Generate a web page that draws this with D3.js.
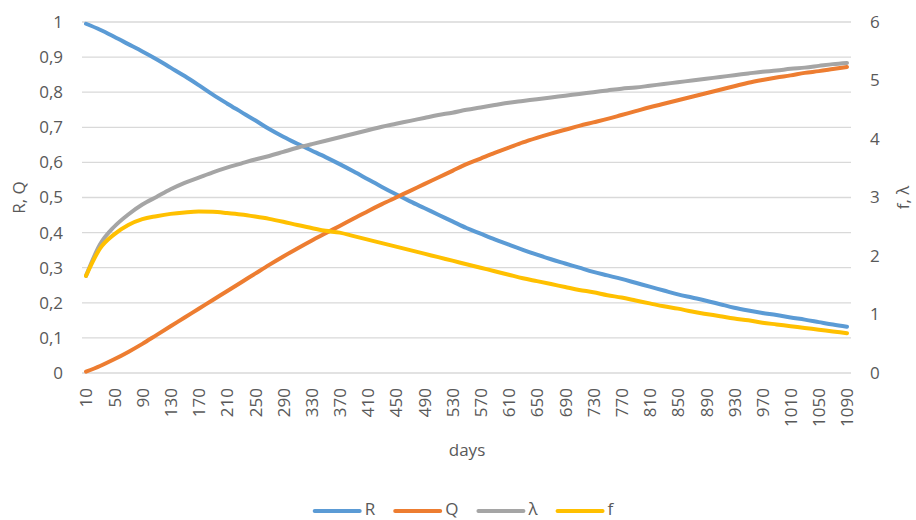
<!DOCTYPE html>
<html>
<head>
<meta charset="utf-8">
<script src="https://cdn.jsdelivr.net/npm/d3@7"></script>
<style>
  body { margin: 0; background: #fff; }
  text { font-family: "Open Sans", sans-serif; fill: #595959; }
</style>
</head>
<body>
<svg id="chart"></svg>
<script>
// days (category axis), one value every 20 days
const days = [10, 30, 50, 70, 90, 110, 130, 150, 170, 190, 210, 230, 250, 270, 290, 310, 330, 350, 370, 390,
  410, 430, 450, 470, 490, 510, 530, 550, 570, 590, 610, 630, 650, 670, 690, 710, 730, 750, 770, 790,
  810, 830, 850, 870, 890, 910, 930, 950, 970, 990, 1010, 1030, 1050, 1070, 1090];

// left axis series
const R = [0.995, 0.978, 0.958, 0.937, 0.916, 0.894, 0.870, 0.846, 0.820, 0.793, 0.768, 0.744, 0.720, 0.695, 0.673, 0.653, 0.634, 0.615, 0.595, 0.574,
  0.552, 0.530, 0.509, 0.489, 0.470, 0.451, 0.432, 0.413, 0.397, 0.381, 0.366, 0.351, 0.337, 0.324, 0.312, 0.300, 0.288, 0.278, 0.268, 0.257,
  0.246, 0.235, 0.224, 0.215, 0.206, 0.196, 0.186, 0.178, 0.171, 0.165, 0.158, 0.152, 0.145, 0.138, 0.132];
const Q = [0.004, 0.020, 0.039, 0.060, 0.083, 0.108, 0.133, 0.158, 0.183, 0.208, 0.233, 0.258, 0.283, 0.308, 0.332, 0.355, 0.377, 0.398, 0.419, 0.440,
  0.461, 0.481, 0.500, 0.519, 0.538, 0.557, 0.576, 0.595, 0.611, 0.627, 0.642, 0.657, 0.670, 0.682, 0.693, 0.704, 0.714, 0.724, 0.735, 0.746,
  0.757, 0.767, 0.777, 0.787, 0.797, 0.807, 0.817, 0.827, 0.835, 0.842, 0.848, 0.855, 0.860, 0.866, 0.872];

// right axis series
const lambda = [1.66, 2.20, 2.50, 2.71, 2.88, 3.01, 3.14, 3.25, 3.34, 3.43, 3.51, 3.58, 3.65, 3.71, 3.78, 3.85, 3.91, 3.97, 4.03, 4.09,
  4.15, 4.21, 4.26, 4.31, 4.36, 4.41, 4.45, 4.50, 4.54, 4.58, 4.62, 4.65, 4.68, 4.71, 4.74, 4.77, 4.80, 4.83, 4.86, 4.88,
  4.91, 4.94, 4.97, 5.00, 5.03, 5.06, 5.09, 5.12, 5.15, 5.17, 5.20, 5.22, 5.25, 5.28, 5.30];
const f = [1.66, 2.13, 2.37, 2.53, 2.63, 2.68, 2.72, 2.745, 2.76, 2.755, 2.735, 2.71, 2.675, 2.635, 2.585, 2.53, 2.48, 2.43, 2.40, 2.34,
  2.28, 2.22, 2.16, 2.10, 2.04, 1.98, 1.92, 1.86, 1.80, 1.74, 1.68, 1.62, 1.57, 1.52, 1.47, 1.42, 1.38, 1.33, 1.29, 1.24,
  1.19, 1.14, 1.10, 1.05, 1.01, 0.97, 0.93, 0.90, 0.86, 0.83, 0.80, 0.77, 0.74, 0.71, 0.68];

const dayTicks = [10, 50, 90, 130, 170, 210, 250, 290, 330, 370, 410, 450, 490, 530, 570, 610, 650, 690, 730, 770,
  810, 850, 890, 930, 970, 1010, 1050, 1090];
const leftTicks = [0, 0.1, 0.2, 0.3, 0.4, 0.5, 0.6, 0.7, 0.8, 0.9, 1];
const rightTicks = [0, 1, 2, 3, 4, 5, 6];

const series = [
  { name: "R", values: R, axis: "left", color: "#5B9BD5" },
  { name: "Q", values: Q, axis: "left", color: "#ED7D31" },
  { name: "λ", values: lambda, axis: "right", color: "#A5A5A5" },
  { name: "f", values: f, axis: "right", color: "#FFC000" }
];

const width = 916, height = 520;
const plot = { left: 82, right: 851, top: 22, bottom: 373 };
const fontSize = "17px";

const svg = d3.select("#chart")
  .attr("width", width)
  .attr("height", height);

const x = d3.scalePoint()
  .domain(days)
  .range([86, 847]);

const yLeft = d3.scaleLinear()
  .domain([0, 1])
  .range([plot.bottom, plot.top]);

const yRight = d3.scaleLinear()
  .domain([0, 6])
  .range([plot.bottom, plot.top]);

// gridlines
svg.append("g")
  .selectAll("line")
  .data(leftTicks)
  .join("line")
  .attr("x1", plot.left)
  .attr("x2", plot.right)
  .attr("y1", d => yLeft(d))
  .attr("y2", d => yLeft(d))
  .attr("stroke", "#D9D9D9")
  .attr("stroke-width", 1.3);

const fmt = d => (d === 0 || d === 1) ? String(d) : d.toFixed(1).replace(".", ",");

const leftAxis = svg.append("g")
  .attr("transform", `translate(${plot.left},0)`)
  .call(d3.axisLeft(yLeft).tickValues(leftTicks).tickFormat(fmt).tickSize(0).tickPadding(19));

const rightAxis = svg.append("g")
  .attr("transform", `translate(${plot.right},0)`)
  .call(d3.axisRight(yRight).tickValues(rightTicks).tickFormat(d3.format("d")).tickSize(0).tickPadding(19));

const xAxis = svg.append("g")
  .attr("transform", `translate(0,${plot.bottom})`)
  .call(d3.axisBottom(x).tickValues(dayTicks).tickSize(0));

xAxis.selectAll("text")
  .attr("x", -15)
  .attr("y", 0)
  .attr("dy", "0.35em")
  .attr("transform", "rotate(-90)")
  .style("text-anchor", "end");

[leftAxis, rightAxis, xAxis].forEach(a => {
  a.select(".domain").remove();
  a.selectAll("text")
    .attr("font-family", "Open Sans, sans-serif")
    .attr("font-size", fontSize)
    .attr("fill", "#595959");
});

// lines
series.forEach(s => {
  const y = s.axis === "left" ? yLeft : yRight;
  const line = d3.line()
    .x((d, i) => x(days[i]))
    .y(d => y(d))
    .curve(d3.curveMonotoneX);

  svg.append("path")
    .datum(s.values)
    .attr("fill", "none")
    .attr("stroke", s.color)
    .attr("stroke-width", 4)
    .attr("stroke-linecap", "round")
    .attr("stroke-linejoin", "round")
    .attr("d", line);
});

// axis titles
svg.append("text")
  .attr("transform", "translate(25,197.5) rotate(-90)")
  .attr("text-anchor", "middle")
  .attr("font-size", fontSize)
  .text("R, Q");

svg.append("text")
  .attr("transform", "translate(909,197.5) rotate(-90)")
  .attr("text-anchor", "middle")
  .attr("font-size", fontSize)
  .text("f, λ");

svg.append("text")
  .attr("x", 467)
  .attr("y", 456)
  .attr("text-anchor", "middle")
  .attr("font-size", fontSize)
  .text("days");

// legend, laid out from text widths and centred
const legend = svg.append("g");
let cursor = 0;
series.forEach(s => {
  const item = legend.append("g").attr("transform", `translate(${cursor},0)`);
  item.append("line")
    .attr("x1", 2).attr("x2", 47)
    .attr("y1", -4).attr("y2", -4)
    .attr("stroke", s.color)
    .attr("stroke-width", 4)
    .attr("stroke-linecap", "round");
  const t = item.append("text")
    .attr("x", 52)
    .attr("font-size", fontSize)
    .text(s.name);
  cursor += 52 + t.node().getComputedTextLength() + 18;
});
const legendWidth = cursor - 18;
legend.attr("transform", `translate(${463 - legendWidth / 2},515)`);
</script>
</body>
</html>
